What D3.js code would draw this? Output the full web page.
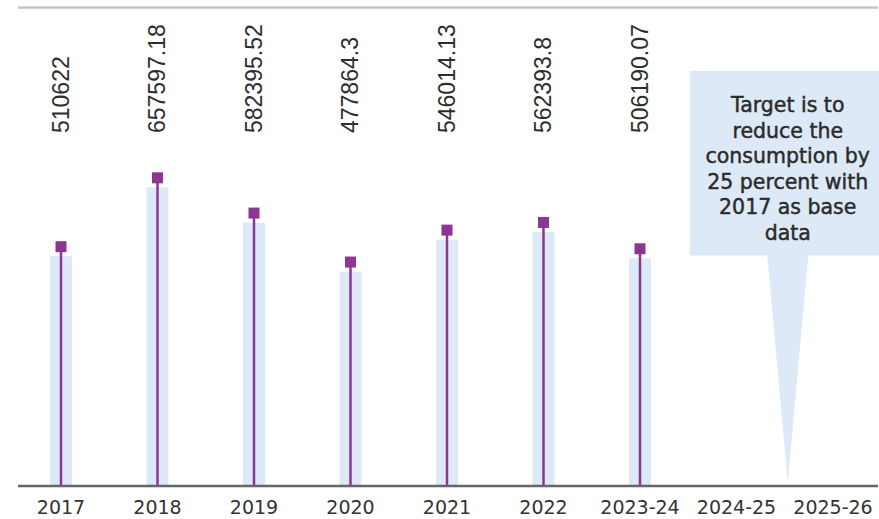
<!DOCTYPE html>
<html>
<head>
<meta charset="utf-8">
<script src="https://cdn.jsdelivr.net/npm/d3@7"></script>
<style>
  html, body { margin: 0; padding: 0; background: #fff; }
  svg { display: block; }
</style>
</head>
<body>
<svg id="chart" width="879" height="519"></svg>
<script>
const categories = ["2017", "2018", "2019", "2020", "2021", "2022", "2023-24", "2024-25", "2025-26"];
const values = [510622, 657597.18, 582395.52, 477864.3, 546014.13, 562393.8, 506190.07, null, null];
const valueLabels = ["510622", "657597.18", "582395.52", "477864.3", "546014.13", "562393.8", "506190.07", "", ""];
const calloutLines = ["Target is to", "reduce the", "consumption by", "25 percent with", "2017 as base", "data"];

const W = 879, H = 519;
const svg = d3.select("#chart");
const purple = "#8c3592";
const lightBlue = "#dde9f6";
const baseY = 486;

const x = d3.scaleBand().domain(categories).range([12.75, 881.25]).padding(0);
const y = d3.scaleLinear().domain([0, 1020000]).range([baseY, 8]);
const cx = d => x(d) + x.bandwidth() / 2;

const data = categories.map((c, i) => ({ c, v: values[i], label: valueLabels[i] }));
const withVal = data.filter(d => d.v != null);

// top rule
svg.append("line").attr("x1", 18).attr("x2", 878).attr("y1", 7.5).attr("y2", 7.5)
  .attr("stroke", "#c4c4c4").attr("stroke-width", 2.5);

// light blue bars
const barW = 22;
svg.append("g").selectAll("rect").data(withVal).join("rect")
  .attr("x", d => cx(d.c) - barW / 2)
  .attr("width", barW)
  .attr("y", d => y(d.v) + 9.5)
  .attr("height", d => baseY - (y(d.v) + 9.5))
  .attr("fill", lightBlue);

// callout
const tipX = x("2025-26") + 3;
const boxW = 196, boxTop = 71, boxBottom = 255.5;
const g = svg.append("g");
g.append("path")
  .attr("d", `M${tipX - boxW / 2},${boxTop} H${tipX + boxW / 2} V${boxBottom} H${tipX + 20.5} L${tipX},${y(0) - 3} L${tipX - 20.5},${boxBottom} H${tipX - boxW / 2} Z`)
  .attr("fill", lightBlue);
g.append("g").selectAll("text").data(calloutLines).join("text")
  .attr("x", tipX)
  .attr("y", (d, i) => 112 + i * 25.6)
  .attr("text-anchor", "middle")
  .attr("font-family", "DejaVu Sans")
  .attr("font-size", 20.5)
  .attr("fill", "#2b2b2b")
  .attr("stroke", "#2b2b2b")
  .attr("stroke-width", 0.45)
  .text(d => d);

// stems
svg.append("g").selectAll("line").data(withVal).join("line")
  .attr("x1", d => cx(d.c)).attr("x2", d => cx(d.c))
  .attr("y1", d => y(d.v)).attr("y2", baseY)
  .attr("stroke", purple).attr("stroke-width", 2.5);

// squares
const sq = 11;
svg.append("g").selectAll("rect").data(withVal).join("rect")
  .attr("x", d => cx(d.c) - sq / 2)
  .attr("y", d => y(d.v) - sq / 2)
  .attr("width", sq).attr("height", sq)
  .attr("fill", purple);

// value labels (rotated)
svg.append("g").selectAll("text").data(withVal).join("text")
  .attr("transform", d => `translate(${cx(d.c) - 0.5},133) rotate(-90)`)
  .attr("dy", "0.35em")
  .attr("text-anchor", "start")
  .attr("font-family", "Liberation Sans, Arial, sans-serif")
  .attr("font-size", 23)
  .attr("fill", "#2e2e2e")
  .text(d => d.label);

// x axis
const axis = svg.append("g").attr("transform", `translate(0,${baseY})`)
  .call(d3.axisBottom(x).tickSize(0).tickPadding(0));
axis.select(".domain").remove();
axis.append("line").attr("x1", 18).attr("x2", 878).attr("y1", 0).attr("y2", 0)
  .attr("stroke", "#666").attr("stroke-width", 2.5);
axis.selectAll(".tick text")
  .attr("y", 28)
  .attr("dy", 0)
  .attr("font-family", "DejaVu Sans")
  .attr("font-size", 19)
  .attr("fill", "#333");
</script>
</body>
</html>
